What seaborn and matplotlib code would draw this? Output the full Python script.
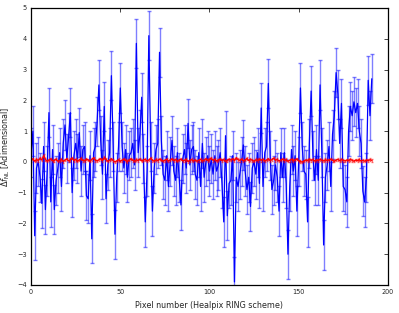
import numpy as np
import pandas as pd
import matplotlib
matplotlib.use("Agg")
import matplotlib.pyplot as plt
import seaborn as sns

blue_vals = [
    0.3, 1.0, -2.4, -0.2, 0.0, -0.5, -1.35, 0.5, -1.55, -0.3, 1.6, -1.3, 0.4, -1.55, -0.6, -0.2,
    0.3, -0.8, 0.6, 1.2, 0.1, 0.8, 1.6, -1.0, 0.2, 0.6, 0.1, 0.95, -0.3, 0.4, 0.5, -1.1,
    -1.2, 0.2, -2.5, 0.3, 0.5, 1.3, 2.5, 0.7, -0.4, 1.8, -1.2, -0.1, 0.3, 2.8, 0.5, -2.35,
    -0.5, 0.5, 2.4, 0.5, -0.2, 0.4, -0.5, 0.2, 0.3, 0.6, -0.1, 3.85, 0.3, 0.9, 2.1, 0.1,
    -1.95, -0.3, 4.1, 0.5, -1.6, -0.2, 0.4, 0.6, 3.56, 0.7, -0.4, -0.6, 0.2, -0.8, 0.0, 0.7,
    -0.3, -0.6, 0.3, -0.5, -1.4, 0.1, 0.4, -0.2, 1.25, -0.1, 0.4, 0.5, -0.4, -0.6, 0.3, -0.8,
    0.6, -0.5, 0.0, 0.2, -0.3, 0.1, -0.4, 0.2, -0.3, -0.1, 0.3, -0.7, -1.95, 0.85, -1.75, -0.7,
    -0.6, 0.2, -3.9, -0.5, -0.8, -0.4, 0.0, 0.55, -0.3, -0.9, -0.5, -1.45, -0.2, 0.0, -0.4, 0.3,
    -0.7, 1.75, -0.8, 0.3, 0.5, 2.55, 0.2, -0.9, -0.6, -0.1, -0.5, -1.6, 0.3, -0.5, 0.3, -0.7,
    -3.0, -0.8, 0.4, -0.3, 0.2, -1.6, 0.0, 2.4, 0.5, -0.3, -0.4, -1.95, 0.6, 2.3, 0.2, -0.6,
    0.4, -0.6, 2.5, 0.3, -2.7, -0.5, -0.1, 0.5, -0.8, 0.9, 1.5, 2.9, 2.2, 0.6, 1.9, -0.8,
    -0.9, -1.3, 1.0, 1.8, 1.5, 1.95, 1.6, 1.9, 1.0, 0.6, -0.95, -1.3, -0.5, 2.65, 1.5, 2.7,
]
blue_err = 0.8

red_vals = [
    0.05, 0.10, 0.02, 0.08, 0.04, 0.12, 0.06, 0.20, 0.08, 0.02, 0.06, 0.10, 0.03, 0.05, 0.09, 0.02,
    0.04, 0.08, 0.01, 0.06, 0.10, 0.03, 0.07, 0.12, 0.04, 0.08, 0.02, 0.06, 0.11, 0.05, 0.03, 0.09,
    0.06, 0.02, 0.08, 0.13, 0.05, 0.03, 0.07, 0.10, 0.04, 0.14, 0.08, 0.02, 0.06, 0.10, 0.04, 0.00,
    0.03, 0.07, 0.02, 0.05, 0.09, 0.04, 0.01, 0.06, 0.10, 0.05, 0.02, 0.07, 0.04, 0.09, 0.03, 0.06,
    0.08, 0.03, 0.06, 0.12, 0.05, 0.02, 0.07, 0.04, 0.09, 0.06, 0.02, 0.05, 0.08, 0.03, 0.06, 0.10,
    0.04, 0.07, 0.02, 0.06, 0.09, 0.03, 0.05, 0.08, 0.01, 0.04, 0.07, 0.03, 0.06, 0.02, 0.05, 0.08,
    0.03, 0.06, 0.10, 0.04, 0.07, 0.12, 0.05, 0.08, 0.03, 0.06, 0.09, 0.04, 0.07, 0.02, 0.05, 0.08,
    0.06, 0.10, 0.04, 0.13, 0.07, 0.05, 0.09, 0.03, 0.06, 0.11, 0.04, 0.08, 0.05, 0.02, 0.07, 0.04,
    0.09, 0.05, 0.08, 0.03, 0.06, 0.10, 0.04, 0.07, 0.12, 0.05, 0.08, 0.03, 0.06, 0.09, 0.04, 0.07,
    0.02, 0.05, 0.08, 0.04, 0.06, 0.10, 0.03, 0.01, -0.01, 0.03, 0.06, 0.04, 0.08, 0.05, 0.07, 0.03,
    0.06, 0.04, 0.08, 0.05, 0.03, 0.07, 0.04, 0.06, 0.09, 0.05, 0.02, 0.06, 0.08, 0.04, 0.07, 0.05,
    0.03, 0.06, 0.04, 0.08, 0.05, 0.02, 0.06, 0.04, 0.07, 0.03, 0.05, 0.02, 0.06, 0.04, 0.07, 0.05,
]
red_err = 0.04

x_ticks = [0, 50, 100, 150, 200]
y_ticks = [-4, -3, -2, -1, 0, 1, 2, 3, 4, 5]

sns.set_style("white")
plt.rcParams['font.family'] = ['DejaVu Sans']

pix = np.arange(len(blue_vals))
df = pd.DataFrame({"pix": pix, "blue": blue_vals, "red": red_vals})

fig = plt.figure(figsize=(3.99, 3.13), dpi=100)
ax = fig.add_axes([0.078, 0.0895, 0.894, 0.885])

ax.errorbar(df["pix"], df["blue"], yerr=blue_err, fmt="none", ecolor="blue",
            alpha=0.5, elinewidth=1.0, capsize=1.5, capthick=1.0)
sns.lineplot(data=df, x="pix", y="blue", ax=ax, color="blue", linewidth=0.9)
ax.errorbar(df["pix"], df["red"], yerr=red_err, fmt="none", ecolor="red",
            alpha=0.5, elinewidth=0.8, capsize=1.0)
sns.lineplot(data=df, x="pix", y="red", ax=ax, color="red", linewidth=1.0)

ax.set_xlim(0, 200)
ax.set_ylim(-4, 5)
ax.set_xticks(x_ticks)
ax.set_yticks(y_ticks)
ax.tick_params(direction="in", length=3, width=0.6, labelsize=4.7, top=True, right=True, pad=3)
for s in ax.spines.values():
    s.set_linewidth(0.9)
    s.set_color("black")
ax.set_xlabel("Pixel number (Healpix RING scheme)", fontsize=5.8, labelpad=4)
ax.set_ylabel(r"$\Delta f_{\rm NL}$ [Adimensional]", fontsize=5.8, labelpad=4)

fig.savefig("out.png", dpi=100)
